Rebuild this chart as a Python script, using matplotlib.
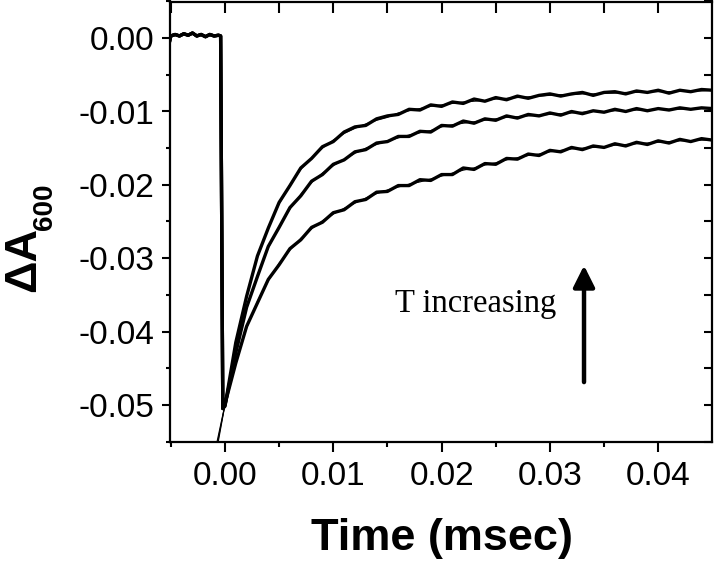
import numpy as np
import matplotlib
matplotlib.use("Agg")
import matplotlib.pyplot as plt
from matplotlib.ticker import MultipleLocator, FormatStrFormatter

plt.rcParams['font.family'] = ['Liberation Sans', 'DejaVu Sans']
plt.rcParams['axes.unicode_minus'] = False

# ---------------- data ----------------
# pre-trigger baseline + drop (shared by all three traces)
base_t = [-0.0052, -0.0050, -0.0046, -0.0042, -0.0038, -0.0034, -0.0030, -0.0026,
          -0.0022, -0.0018, -0.0014, -0.0010, -0.0006, -0.0004, -0.0003, -0.0002]
base_A = [-0.0010, 0.0003, 0.0005, 0.0003, 0.0006, 0.0004, 0.0007, 0.0003,
          0.0005, 0.0002, 0.0005, 0.0003, 0.0004, 0.0003, -0.0250, -0.0505]

# time grid of the transients (msec)
t_data = np.round(np.arange(0, 0.0455, 0.001), 4)

trace_fast = [-0.0502, -0.0415, -0.0352, -0.0297, -0.0259, -0.0224, -0.0201, -0.0177,
              -0.0164, -0.0148, -0.0141, -0.0128, -0.0121, -0.0119, -0.0110, -0.0106,
              -0.0104, -0.0097, -0.0098, -0.0091, -0.0093, -0.0087, -0.0089, -0.0083,
              -0.0086, -0.0081, -0.0084, -0.0079, -0.0082, -0.0078, -0.0076, -0.0079,
              -0.0076, -0.0074, -0.0078, -0.0074, -0.0073, -0.0076, -0.0072, -0.0074,
              -0.0071, -0.0075, -0.0071, -0.0073, -0.0070, -0.0071]
trace_mid = [-0.0501, -0.0429, -0.0367, -0.0325, -0.0284, -0.0258, -0.0231, -0.0215,
             -0.0195, -0.0186, -0.0172, -0.0166, -0.0155, -0.0152, -0.0143, -0.0141,
             -0.0134, -0.0134, -0.0127, -0.0128, -0.0119, -0.0120, -0.0113, -0.0116,
             -0.0110, -0.0112, -0.0106, -0.0109, -0.0104, -0.0106, -0.0102, -0.0105,
             -0.0100, -0.0103, -0.0099, -0.0101, -0.0097, -0.0100, -0.0096, -0.0099,
             -0.0096, -0.0098, -0.0095, -0.0097, -0.0095, -0.0096]
trace_slow = [-0.0499, -0.0443, -0.0393, -0.0361, -0.0329, -0.0309, -0.0287, -0.0275,
              -0.0258, -0.0251, -0.0238, -0.0234, -0.0223, -0.0220, -0.0210, -0.0209,
              -0.0201, -0.0201, -0.0193, -0.0194, -0.0186, -0.0186, -0.0177, -0.0179,
              -0.0171, -0.0172, -0.0164, -0.0165, -0.0158, -0.0160, -0.0153, -0.0155,
              -0.0149, -0.0152, -0.0147, -0.0149, -0.0144, -0.0147, -0.0142, -0.0145,
              -0.0140, -0.0143, -0.0138, -0.0141, -0.0137, -0.0139]

# fitted curves (start slightly before t = 0)
t_fit = [-0.0008] + list(t_data)
fit_fast = [-0.0565, -0.0500, -0.0417, -0.0351, -0.0299, -0.0258, -0.0226, -0.0200, -0.0179,
            -0.0163, -0.0150, -0.0139, -0.0130, -0.0123, -0.0117, -0.0112, -0.0108,
            -0.0102, -0.0099, -0.0096, -0.0093, -0.0091, -0.0089, -0.0087, -0.0086,
            -0.0085, -0.0083, -0.0082, -0.0081, -0.0080, -0.0079, -0.0078, -0.0077,
            -0.0077, -0.0076, -0.0076, -0.0075, -0.0075, -0.0074, -0.0074, -0.0073,
            -0.0073, -0.0073, -0.0072, -0.0072, -0.0072, -0.0071]
fit_mid = [-0.0560, -0.0500, -0.0427, -0.0369, -0.0323, -0.0286, -0.0257, -0.0233, -0.0213,
           -0.0197, -0.0184, -0.0174, -0.0165, -0.0157, -0.0150, -0.0145, -0.0140,
           -0.0136, -0.0132, -0.0129, -0.0126, -0.0121, -0.0118, -0.0116, -0.0114,
           -0.0112, -0.0110, -0.0108, -0.0107, -0.0106, -0.0105, -0.0104, -0.0103,
           -0.0102, -0.0101, -0.0100, -0.0100, -0.0099, -0.0099, -0.0098, -0.0098,
           -0.0097, -0.0097, -0.0097, -0.0096, -0.0096, -0.0096]
fit_slow = [-0.0555, -0.0500, -0.0441, -0.0395, -0.0359, -0.0331, -0.0307, -0.0289, -0.0273,
            -0.0260, -0.0249, -0.0240, -0.0232, -0.0225, -0.0218, -0.0212, -0.0207,
            -0.0203, -0.0199, -0.0196, -0.0192, -0.0188, -0.0184, -0.0180, -0.0177,
            -0.0173, -0.0170, -0.0166, -0.0163, -0.0160, -0.0158, -0.0155, -0.0153,
            -0.0151, -0.0150, -0.0149, -0.0148, -0.0146, -0.0145, -0.0144, -0.0143,
            -0.0142, -0.0141, -0.0140, -0.0140, -0.0139, -0.0139]

x_ticks = [0.00, 0.01, 0.02, 0.03, 0.04]
y_ticks = [0.00, -0.01, -0.02, -0.03, -0.04, -0.05]
annotation_text = "T increasing"

# ---------------- figure ----------------
W, H = 714, 561
fig = plt.figure(figsize=(W / 100, H / 100), dpi=100)
L, R, T, B = 169.5, 711.5, 1.5, 441.5
rect = [L / W, 1 - B / H, (R - L) / W, (B - T) / H]
ax = fig.add_axes(rect)
xlim = (-0.00512, 0.04492)
ylim = (-0.055, 0.005)

for tr in (trace_fast, trace_mid, trace_slow):
    ax.plot(list(base_t) + list(t_data), list(base_A) + list(tr),
            color='black', lw=2.4, solid_joinstyle='round', zorder=2)
for ft in (fit_fast, fit_mid, fit_slow):
    ax.plot(t_fit, ft, color='black', lw=0.8, zorder=3)

ax.set_xlim(*xlim)
ax.set_ylim(*ylim)
ax.set_xticks(x_ticks)
ax.set_yticks(y_ticks)
ax.xaxis.set_minor_locator(MultipleLocator(0.005))
ax.yaxis.set_minor_locator(MultipleLocator(0.005))
ax.xaxis.set_major_formatter(FormatStrFormatter('%.2f'))
ax.yaxis.set_major_formatter(FormatStrFormatter('%.2f'))
for s in ax.spines.values():
    s.set_linewidth(1.6)
ax.tick_params(axis='x', which='major', direction='out', length=7.2, width=1.5,
               labelsize=24, pad=7)
ax.tick_params(axis='x', which='minor', direction='out', length=3.6, width=1.5)
ax.tick_params(axis='y', which='major', direction='out', length=5.8, width=1.5,
               labelsize=24, pad=5)
ax.tick_params(axis='y', which='minor', direction='out', length=3.1, width=1.5)

# top / right inward ticks via overlay axes
ax2 = fig.add_axes(rect)
ax2.set_xlim(*xlim)
ax2.set_ylim(*ylim)
ax2.patch.set_visible(False)
for s in ax2.spines.values():
    s.set_visible(False)
ax2.set_xticks(x_ticks)
ax2.set_yticks(y_ticks)
ax2.xaxis.set_minor_locator(MultipleLocator(0.005))
ax2.yaxis.set_minor_locator(MultipleLocator(0.005))
ax2.xaxis.tick_top()
ax2.yaxis.tick_right()
ax2.tick_params(axis='x', which='both', direction='in', length=8, width=1.5,
                labeltop=False, labelbottom=False)
ax2.tick_params(axis='y', which='both', direction='in', length=5.8, width=1.5,
                labelright=False, labelleft=False)

# annotation
ax.text(0.0157, -0.0373, annotation_text, family=['Liberation Serif', 'DejaVu Serif'],
        fontsize=23.5, ha='left', va='baseline')
ax.annotate('', xy=(0.03315, -0.0310), xytext=(0.03315, -0.0469),
            arrowprops=dict(arrowstyle='-|>,head_length=0.54,head_width=0.27',
                            lw=3.2, color='black', shrinkA=0, shrinkB=0,
                            mutation_scale=24))

# axis labels
fig.text(442 / W, 1 - 550 / H, 'Time (msec)', fontsize=32.5, fontweight='bold',
         ha='center', va='baseline')
fig.text(23.3 / W, 1 - 259 / H, '\u0394A', fontsize=32.5, fontweight='bold',
         rotation=90, ha='center', va='center')
fig.text(44.8 / W, 1 - 206.5 / H, '600', fontsize=20, fontweight='bold',
         rotation=90, ha='center', va='center')

fig.savefig('out.png', dpi=100)
